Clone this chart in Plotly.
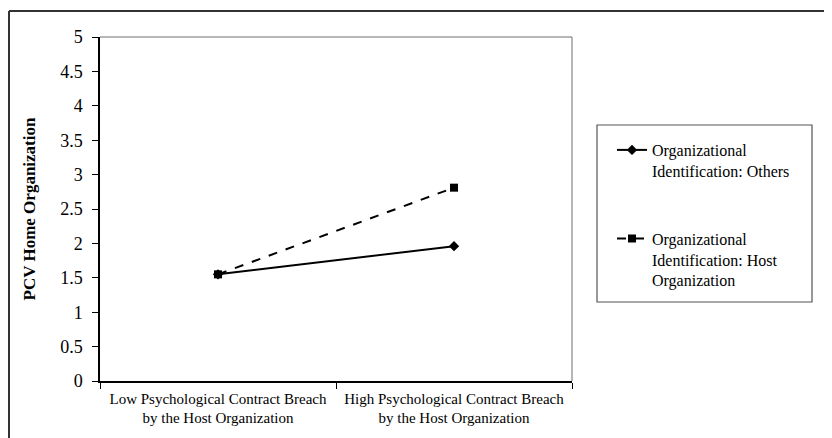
import plotly.graph_objects as go

categories = ["Low Psychological Contract Breach<br>by the Host Organization",
              "High Psychological Contract Breach<br>by the Host Organization"]
others = [1.55, 1.96]
host = [1.55, 2.81]
series_names = ["Organizational<br>Identification: Others",
                "Organizational<br>Identification: Host<br>Organization"]
y_ticks = [0, 0.5, 1, 1.5, 2, 2.5, 3, 3.5, 4, 4.5, 5]
y_labels = ["0", "0.5", "1", "1.5", "2", "2.5", "3", "3.5", "4", "4.5", "5"]

# page body has an 8px margin; figure is sized to fit the 832x438 window
OFF = 8
W, H = 832 - OFF, 438 - OFF
# plot area in screen pixels: x 100..572, y 37..381
L, R, T, B = 100 - OFF, W - (572 - OFF), 37 - OFF, H - (381 - OFF)
pw, ph = W - L - R, H - T - B

def px(x):  # screen x -> paper x
    return (x - OFF - L) / pw

def py(y):  # screen y -> paper y
    return (H - B - (y - OFF)) / ph

FONT = "Liberation Serif, Times New Roman, serif"

fig = go.Figure()
fig.add_trace(go.Scatter(x=categories, y=others, name=series_names[0], mode="lines+markers",
                         line=dict(color="black", width=2),
                         marker=dict(symbol="diamond", size=8, color="black"),
                         legendgroup="a"))
fig.add_trace(go.Scatter(x=categories, y=host, name=series_names[1], mode="lines+markers",
                         line=dict(color="black", width=2, dash="dash"),
                         marker=dict(symbol="square", size=8, color="black"),
                         legendgroup="b"))

fig.update_layout(
    width=W, height=H,
    margin=dict(l=L, r=R, t=T, b=B),
    paper_bgcolor="white", plot_bgcolor="white",
    font=dict(family=FONT, size=15, color="black"),
    showlegend=True,
    legend=dict(x=px(612), y=py(133), xanchor="left", yanchor="top",
                bgcolor="rgba(0,0,0,0)", borderwidth=0,
                traceorder="grouped", tracegroupgap=44, valign="top",
                font=dict(family=FONT, size=16, color="black"),
                itemwidth=30),
    xaxis=dict(type="category", range=[-0.5, 1.5], tickson="boundaries",
               ticks="outside", ticklen=6, tickcolor="black",
               showline=True, linecolor="black", linewidth=1.5,
               showgrid=False, zeroline=False, ticklabelstandoff=3,
               tickfont=dict(family=FONT, size=15, color="black")),
    yaxis=dict(range=[0, 5], tickvals=y_ticks, ticktext=y_labels,
               ticks="outside", ticklen=6, tickcolor="black",
               showline=True, linecolor="black", linewidth=1.5,
               showgrid=False, zeroline=False, ticklabelstandoff=6,
               tickfont=dict(family=FONT, size=18, color="black"),
               title=dict(text="<b>PCV Home Organization</b>", standoff=20,
                          font=dict(family=FONT, size=17, color="black"))),
)

shapes = [
    # plot area top and right border
    dict(type="line", xref="paper", yref="paper", x0=0, x1=1, y0=1, y1=1,
         line=dict(color="#6e6e6e", width=1)),
    dict(type="line", xref="paper", yref="paper", x0=1, x1=1, y0=0, y1=1,
         line=dict(color="#6e6e6e", width=1)),
    # outer chart frame
    dict(type="line", xref="paper", yref="paper", x0=px(9), x1=px(9), y0=py(445), y1=py(11),
         line=dict(color="#333333", width=2)),
    dict(type="line", xref="paper", yref="paper", x0=px(9), x1=px(840), y0=py(11), y1=py(11),
         line=dict(color="#333333", width=2)),
    # legend box
    dict(type="rect", xref="paper", yref="paper", x0=px(597), x1=px(812), y0=py(302), y1=py(125),
         line=dict(color="#555555", width=1.2)),
]
fig.update_layout(shapes=shapes)

fig.write_html("out.html")
